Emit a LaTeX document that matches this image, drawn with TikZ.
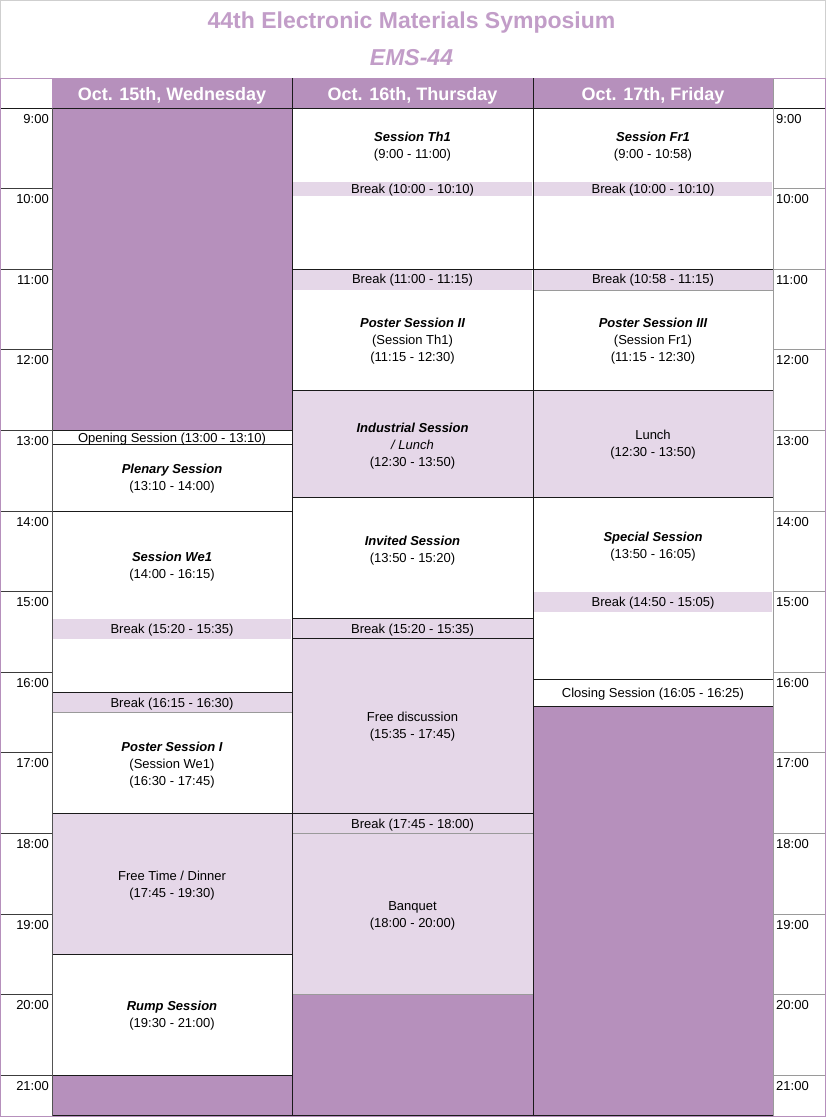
\documentclass[tikz,border=0pt]{standalone}
\usepackage{fontspec}
\setmainfont{Liberation Sans}
\definecolor{dp}{HTML}{B690BC}
\definecolor{lp}{HTML}{E5D7E8}
\definecolor{tc}{HTML}{C29DC8}
\definecolor{lc}{HTML}{1A1A1A}
\definecolor{gc}{HTML}{9A9A9A}
\definecolor{fr}{HTML}{CFCFCF}
\tikzset{
  box/.style={draw=lc, line width=0.9pt},
  txt/.style={align=center, inner sep=0pt, font=\fontsize{13}{17}\selectfont},
  one/.style={inner sep=0pt, font=\fontsize{13}{17}\selectfont, text height=9.5pt, text depth=3pt},
  hdr/.style={anchor=base, inner sep=0pt, text=white, font=\fontsize{18}{20}\selectfont\bfseries},
  tleft/.style={anchor=base east, inner sep=0pt, font=\fontsize{13}{15}\selectfont},
  tright/.style={anchor=base west, inner sep=0pt, font=\fontsize{13}{15}\selectfont},
  ttl/.style={anchor=base, inner sep=0pt, text=tc, font=\fontsize{23}{26}\selectfont\bfseries},
}
\newcommand{\bi}[1]{{\bfseries\itshape #1}}
\begin{document}
\begin{tikzpicture}[x=1pt,y=-1pt]
\useasboundingbox (0,0) rectangle (826,1117);
\fill[white] (0,0) rectangle (826,1117);
% title
\node[ttl] (title) at (411.5,28.3) {44th Electronic Materials Symposium};
\node[ttl] (ems) at (411.5,65) {\itshape EMS-44};
% header
\fill[dp] (52,78) rectangle (773,108);
\draw[lc, line width=0.9pt] (292,78) -- (292,108) (533,78) -- (533,108);
\node[hdr] (hwed) at (172,100.7) {Oct. 15th, Wednesday};
\node[hdr] (hthu) at (412.5,100.7) {Oct. 16th, Thursday};
\node[hdr] (hfri) at (653,100.7) {Oct. 17th, Friday};
% ---------- Wednesday
\fill[dp] (52,108) rectangle (292,430.4);
\filldraw[box, fill=white] (52,430.4) rectangle (292,444.5);
\filldraw[box, fill=white] (52,444.5) rectangle (292,511);
\filldraw[box, fill=white] (52,511) rectangle (292,692.3);
\fill[lp] (52.6,618.5) rectangle (291.4,638.6);
\filldraw[box, fill=lp] (52,692.3) rectangle (292,712.5);
\filldraw[box, fill=white] (52,712.5) rectangle (292,813.5);
\filldraw[box, fill=lp] (52,813.5) rectangle (292,954.3);
\filldraw[box, fill=white] (52,954.3) rectangle (292,1075.2);
\filldraw[box, fill=dp] (52,1075.2) rectangle (292,1115.5);
\draw[gc, line width=0.9pt] (52.5,712.5) -- (291.5,712.5);
% ---------- Thursday
\filldraw[box, fill=white] (292,108) rectangle (533,269.2);
\fill[lp] (292.6,182) rectangle (532.4,196);
\filldraw[box, fill=white] (292,269.2) rectangle (533,390.1);
\fill[lp] (292.6,269.8) rectangle (532.4,290);
\filldraw[box, fill=lp] (292,390.1) rectangle (533,497.6);
\filldraw[box, fill=white] (292,497.6) rectangle (533,618.5);
\filldraw[box, fill=lp] (292,618.5) rectangle (533,638.6);
\filldraw[box, fill=lp] (292,638.6) rectangle (533,813.5);
\filldraw[box, fill=lp] (292,813.5) rectangle (533,833.4);
\filldraw[box, fill=lp] (292,833.4) rectangle (533,994.6);
\filldraw[box, fill=dp] (292,994.6) rectangle (533,1115.5);
\draw[gc, line width=0.9pt] (292.5,833.4) -- (532.5,833.4) (292.5,994.6) -- (532.5,994.6);
% ---------- Friday
\filldraw[box, fill=white] (533,108) rectangle (773,269.2);
\fill[lp] (533.6,182) rectangle (772.4,196);
\filldraw[box, fill=lp] (533,269.2) rectangle (773,290);
\filldraw[box, fill=white] (533,290) rectangle (773,390.1);
\draw[gc, line width=0.9pt] (533.5,290) -- (772.5,290);
\filldraw[box, fill=lp] (533,390.1) rectangle (773,497.6);
\filldraw[box, fill=white] (533,497.6) rectangle (773,679.5);
\fill[lp] (533.6,592) rectangle (772.4,612);
\filldraw[box, fill=white] (533,679.5) rectangle (773,706);
\filldraw[box, fill=dp] (533,706) rectangle (773,1115.5);
% ---------- time columns
\draw[lc, line width=0.9pt] (0,108) -- (826,108);
\foreach \h [count=\i from 0] in {9,...,21} {
  \pgfmathsetmacro\yy{108+\i*80.6}
  \ifnum\h>9
    \draw[lc!85, line width=0.9pt] (0,\yy) -- (52,\yy);
    \draw[gc, line width=0.9pt] (773,\yy) -- (825,\yy);
  \fi
  \node[tleft] (tl\h) at (49,\yy+15) {\h:00};
  \node[tright] (tr\h) at (776,\yy+15) {\h:00};
}
\draw[lc!75, line width=0.9pt] (52,108) -- (52,1115.5);
\draw[lc, line width=0.9pt] (292,108) -- (292,1115.5) (533,108) -- (533,1115.5);
\draw[gc, line width=1.6pt] (773.5,78) -- (773.5,1115.5);
% ---------- frames
\draw[fr, line width=1pt] (0.5,0.5) rectangle (825.5,1116.5);
\draw[dp, line width=1.4pt] (0.7,78) -- (0.7,1116.3) -- (825.3,1116.3) -- (825.3,78);
\draw[dp, line width=1pt] (0.7,78.5) -- (52,78.5) (773,78.5) -- (825.3,78.5);
% ---------- texts Wednesday
\node[one] (wopen) at (172,439.2) {Opening Session (13:00 - 13:10)};
\node[txt] (wplen) at (172,479) {\bi{Plenary Session}\\(13:10 - 14:00)};
\node[txt] (wwe1) at (172,566.5) {\bi{Session We1}\\(14:00 - 16:15)};
\node[one] (wbr1) at (172,630.3) {Break (15:20 - 15:35)};
\node[one] (wbr2) at (172,704.3) {Break (16:15 - 16:30)};
\node[txt] (wpos) at (172,764.8) {\bi{Poster Session I}\\(Session We1)\\(16:30 - 17:45)};
\node[txt] (wfree) at (172,885.5) {Free Time / Dinner\\(17:45 - 19:30)};
\node[txt] (wrump) at (172,1016) {\bi{Rump Session}\\(19:30 - 21:00)};
% ---------- texts Thursday
\node[txt] (tth1) at (412.5,147) {\bi{Session Th1}\\(9:00 - 11:00)};
\node[one] (tbr1) at (412.5,190.5) {Break (10:00 - 10:10)};
\node[one] (tbr2) at (412.5,280.5) {Break (11:00 - 11:15)};
\node[txt] (tpos) at (412.5,341.5) {\bi{Poster Session II}\\(Session Th1)\\(11:15 - 12:30)};
\node[txt] (tind) at (412.5,446) {\bi{Industrial Session}\\\textit{/ Lunch}\\(12:30 - 13:50)};
\node[txt] (tinv) at (412.5,551) {\bi{Invited Session}\\(13:50 - 15:20)};
\node[one] (tbr3) at (412.5,630.3) {Break (15:20 - 15:35)};
\node[txt] (tfree) at (412.5,727) {Free discussion\\(15:35 - 17:45)};
\node[one] (tbr4) at (412.5,825.5) {Break (17:45 - 18:00)};
\node[txt] (tban) at (412.5,915.5) {Banquet\\(18:00 - 20:00)};
% ---------- texts Friday
\node[txt] (ffr1) at (653,147) {\bi{Session Fr1}\\(9:00 - 10:58)};
\node[one] (fbr1) at (653,190.5) {Break (10:00 - 10:10)};
\node[one] (fbr2) at (653,280.5) {Break (10:58 - 11:15)};
\node[txt] (fpos) at (653,341.5) {\bi{Poster Session III}\\(Session Fr1)\\(11:15 - 12:30)};
\node[txt] (flun) at (653,445) {Lunch\\(12:30 - 13:50)};
\node[txt] (fspe) at (653,546.5) {\bi{Special Session}\\(13:50 - 16:05)};
\node[one] (fbr3) at (653,603) {Break (14:50 - 15:05)};
\node[one] (fclo) at (653,694) {Closing Session (16:05 - 16:25)};
\end{tikzpicture}
\end{document}
